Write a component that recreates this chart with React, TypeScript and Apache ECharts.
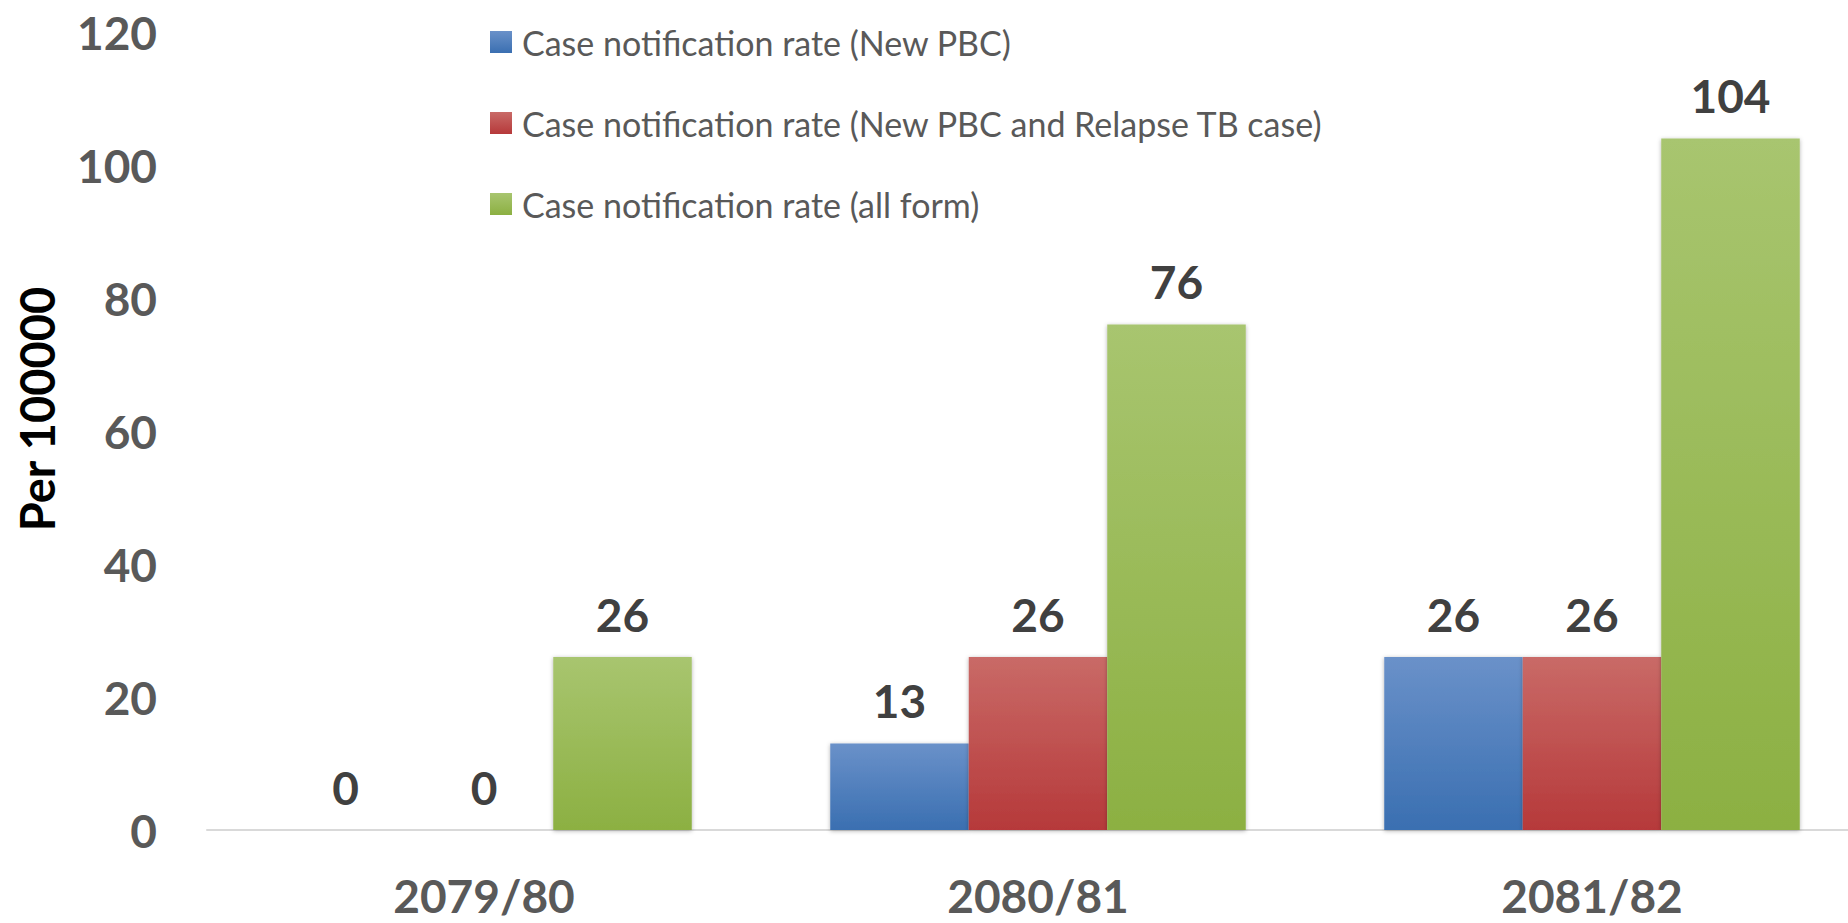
import React, { useEffect, useRef } from "react";
import * as echarts from "echarts";

const categories = ["2079/80", "2080/81", "2081/82"];
const seriesNames = [
  "Case notification rate (New PBC)",
  "Case notification rate (New PBC and Relapse TB case)",
  "Case notification rate (all form)",
];
const newPBC = [0, 13, 26];
const newPBCRelapse = [0, 26, 26];
const allForm = [26, 76, 104];
const yTicks = { min: 0, max: 120, interval: 20 };
const yAxisTitle = "Per 100000";

const FONT = "Lato, 'Open Sans', sans-serif";

const grad = (top: string, bottom: string) =>
  new echarts.graphic.LinearGradient(0, 0, 0, 1, [
    { offset: 0, color: top },
    { offset: 1, color: bottom },
  ]);

export default function App() {
  const ref = useRef<HTMLDivElement>(null);
  useEffect(() => {
    document.body.style.margin = "0";
    document.body.style.overflow = "hidden";
    if (!ref.current) return;
    const chart = echarts.init(ref.current, null, { renderer: "svg" });
    const label = {
      show: true,
      position: "top" as const,
      distance: 20,
      fontFamily: FONT,
      fontWeight: "bold" as const,
      fontSize: 46,
      lineHeight: 46,
      color: "#404040",
    };
    const mk = (name: string, data: number[], top: string, bottom: string) => ({
      name,
      type: "bar" as const,
      data,
      barGap: "0%",
      barCategoryGap: "25%",
      itemStyle: {
        color: grad(top, bottom),
        shadowBlur: 4,
        shadowColor: "rgba(0,0,0,0.3)",
        shadowOffsetX: 0,
        shadowOffsetY: 1,
      },
      label,
    });
    chart.setOption({
      animation: false,
      backgroundColor: "#ffffff",
      grid: { left: 207, top: 32, width: 1662, height: 798 },
      legend: {
        orient: "vertical",
        left: 490,
        top: 25,
        itemWidth: 22,
        itemHeight: 22,
        itemGap: 47,
        padding: 0,
        icon: "rect",
        textStyle: {
          fontFamily: FONT,
          fontSize: 34,
          color: "#595959",
          padding: [0, 0, 0, 5],
        },
        data: seriesNames,
      },
      xAxis: {
        type: "category",
        data: categories,
        axisLine: { show: true, lineStyle: { color: "#d9d9d9", width: 2 } },
        axisTick: { show: false },
        axisLabel: {
          margin: 42,
          fontFamily: FONT,
          fontWeight: "bold",
          fontSize: 46,
          lineHeight: 46,
          color: "#595959",
        },
      },
      yAxis: {
        type: "value",
        min: yTicks.min,
        max: yTicks.max,
        interval: yTicks.interval,
        splitLine: { show: false },
        axisLine: { show: false },
        axisTick: { show: false },
        axisLabel: {
          margin: 50,
          fontFamily: FONT,
          fontWeight: "bold",
          fontSize: 46,
          color: "#595959",
        },
      },
      graphic: [
        {
          type: "text",
          x: 37,
          y: 409,
          rotation: Math.PI / 2,
          style: {
            text: yAxisTitle,
            fontFamily: FONT,
            fontWeight: "bold",
            fontSize: 47,
            fill: "#000000",
            textAlign: "center",
            textVerticalAlign: "middle",
          },
        },
      ],
      series: [
        mk(seriesNames[0], newPBC, "#6a91c9", "#3a6fb1"),
        mk(seriesNames[1], newPBCRelapse, "#c96a67", "#b6393a"),
        mk(seriesNames[2], allForm, "#a8c56f", "#8cb042"),
      ],
    });
    return () => chart.dispose();
  }, []);
  return (
    <div style={{ width: 1848, height: 923, overflow: "hidden", position: "relative" }}>
      <div ref={ref} style={{ width: 1900, height: 923 }} />
    </div>
  );
}
